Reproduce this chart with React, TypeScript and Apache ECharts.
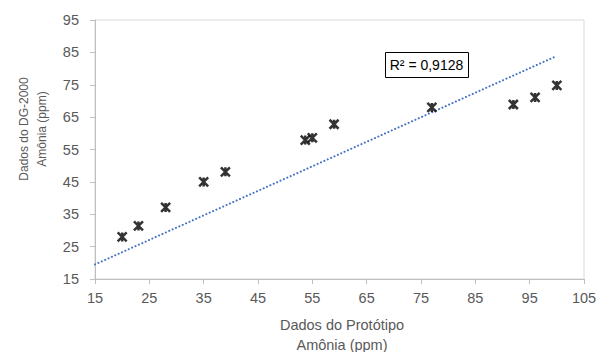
import React, { useEffect, useRef } from "react";
import * as echarts from "echarts";

const prototipo = [20, 23, 28, 35, 39, 53.7, 55, 59, 77, 92, 96, 100];
const dg2000 = [28, 31.4, 37.1, 45, 48.1, 57.9, 58.6, 62.8, 68, 68.9, 71.1, 74.8];
const trendX = [15, 100];
const trendY = [19.5, 83.9];
const r2Label = "R² = 0,9128";
const xTitle = "Dados do Protótipo\nAmônia (ppm)";
const yTitle = "Dados do DG-2000\nAmônia (ppm)";

const FONT = "'Liberation Sans', 'Open Sans', sans-serif";

export default function App() {
  const ref = useRef<HTMLDivElement>(null);
  useEffect(() => {
    if (!ref.current) return;
    const chart = echarts.init(ref.current, undefined, { renderer: "svg" });
    const points = prototipo.map((x, i) => [x, dg2000[i]]);
    const trend = trendX.map((x, i) => [x, trendY[i]]);
    chart.setOption({
      animation: false,
      backgroundColor: "#ffffff",
      textStyle: { fontFamily: FONT },
      grid: {
        left: 95,
        right: 14,
        top: 20,
        bottom: 73,
        outerBoundsMode: "none",
        containLabel: false,
        show: true,
        borderColor: "#d9d9d9",
        borderWidth: 1,
      },
      xAxis: {
        type: "value",
        min: 15,
        max: 105,
        interval: 10,
        splitLine: { show: false },
        axisLine: { show: true, onZero: false, lineStyle: { color: "#bfbfbf", width: 1 } },
        axisTick: { show: true, inside: false, length: 5, lineStyle: { color: "#bfbfbf" } },
        axisLabel: { color: "#595959", fontSize: 14.5, margin: 11, fontFamily: FONT },
        name: xTitle,
        nameLocation: "middle",
        nameGap: 36,
        nameTextStyle: { color: "#595959", fontSize: 14.5, lineHeight: 20, fontFamily: FONT, padding: [0, 0, 0, 5] },
      },
      yAxis: {
        type: "value",
        min: 15,
        max: 95,
        interval: 10,
        splitLine: { show: false },
        axisLine: { show: true, onZero: false, lineStyle: { color: "#bfbfbf", width: 1 } },
        axisTick: { show: true, inside: false, length: 5, lineStyle: { color: "#bfbfbf" } },
        axisLabel: { color: "#595959", fontSize: 14.5, margin: 16, fontFamily: FONT },
      },
      series: [
        {
          type: "line",
          data: trend,
          showSymbol: false,
          symbol: "none",
          z: 1,
          lineStyle: { color: "#4472C4", width: 2, type: [0.1, 3.6], cap: "round" },
        },
        {
          type: "scatter",
          data: points,
          symbol: "path://M0,0L10,10M10,0L0,10M5,0L5,10",
          symbolSize: [9, 9],
          z: 3,
          itemStyle: { color: "#000000", borderColor: "#000000", borderWidth: 2.5 },
        },
      ],
      graphic: [
        {
          type: "text",
          x: 33,
          y: 129,
          rotation: Math.PI / 2,
          style: {
            text: yTitle,
            fill: "#595959",
            fontSize: 12,
            lineHeight: 18,
            fontFamily: FONT,
            align: "center",
            verticalAlign: "middle",
          },
        },
        {
          type: "rect",
          left: 385,
          top: 52,
          shape: { width: 83, height: 25 },
          style: { fill: "#ffffff", stroke: "#000000", lineWidth: 1 },
          z: 10,
        },
        {
          type: "text",
          x: 426.5,
          y: 65,
          style: {
            text: r2Label,
            fill: "#000000",
            fontSize: 14,
            fontFamily: FONT,
            align: "center",
            verticalAlign: "middle",
          },
          z: 11,
        },
      ],
    });
    return () => chart.dispose();
  }, []);
  return (
    <div
      ref={ref}
      style={{ width: 598, height: 352, position: "absolute", left: 0, top: 0 }}
    />
  );
}
